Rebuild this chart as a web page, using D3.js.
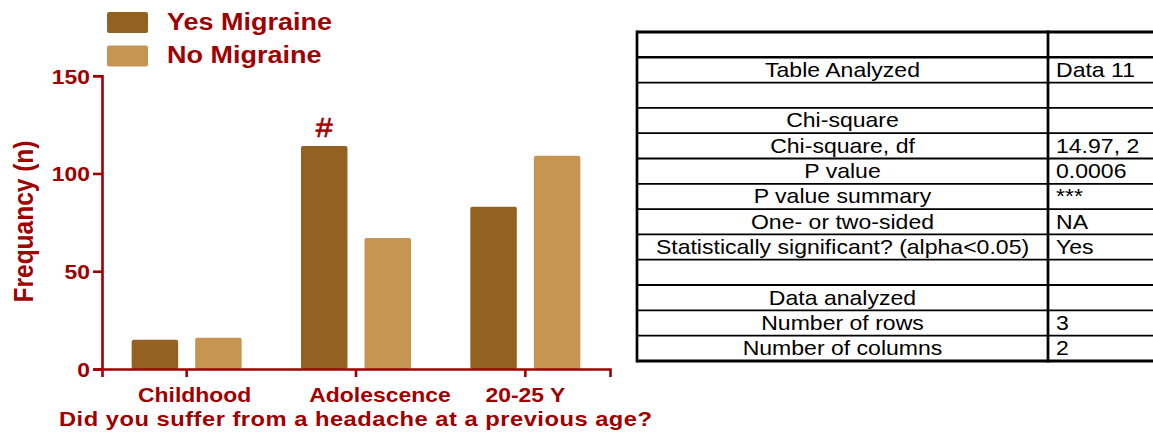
<!DOCTYPE html>
<html>
<head>
<meta charset="utf-8">
<script src="https://cdn.jsdelivr.net/npm/d3@7"></script>
<style>
  body { margin: 0; background: #fff; }
  svg { display: block; font-family: "Liberation Sans", Arial, sans-serif; }
</style>
</head>
<body>
<div class="chart"></div>
<script>
// chart values
var categories = ["Childhood", "Adolescence", "20-25 Y"];
var series = ["Yes Migraine", "No Migraine"];
var yesValues = [15, 114, 83];
var noValues = [16, 67, 109];
var yTicks = [0, 50, 100, 150];
var markCategory = "Adolescence";
var markSeries = "Yes Migraine";
var markText = "#";

var tableLabels = ["", "Table Analyzed", "", "Chi-square", "Chi-square, df", "P value",
    "P value summary", "One- or two-sided", "Statistically significant? (alpha<0.05)", "",
    "Data analyzed", "Number of rows", "Number of columns"];
var tableValues = ["", "Data 11", "", "", "14.97, 2", "0.0006", "***", "NA", "Yes", "",
    "", "3", "2"];

// the source picture is a bit stretched sideways, so text is too
var SX = 1.13;
var red = "#a00000";
var colors = { "Yes Migraine": "#936221", "No Migraine": "#c69552" };
var labelNudge = [8, 24, 0];

var svgWidth = 1153, svgHeight = 435;
var svg = d3.select(".chart").append("svg")
    .attr("width", svgWidth)
    .attr("height", svgHeight);

// scales
var x0 = d3.scaleBand().domain(categories).range([102, 610]);
var x1 = d3.scaleBand().domain(series).range([0, x0.bandwidth()])
    .paddingInner(0.268).paddingOuter(0.467);
var y = d3.scaleLinear().domain([0, 150]).range([369, 75.7]);

var rows = categories.map(function(c, i) {
    return { category: c, values: [
        { key: "Yes Migraine", value: yesValues[i] },
        { key: "No Migraine", value: noValues[i] }
    ] };
});

// bars
var groups = svg.append("g").selectAll("g")
    .data(rows)
    .enter().append("g")
    .attr("transform", function(d) { return "translate(" + x0(d.category) + ",0)"; });

groups.selectAll("rect")
    .data(function(d) { return d.values; })
    .enter().append("rect")
    .attr("x", function(d) { return x1(d.key); })
    .attr("y", function(d) { return y(d.value); })
    .attr("width", x1.bandwidth())
    .attr("height", function(d) { return y(0) - y(d.value); })
    .attr("rx", 2)
    .attr("fill", function(d) { return colors[d.key]; });

// significance mark
var markVal = yesValues[categories.indexOf(markCategory)];
svg.append("text")
    .attr("transform", "translate(" + (x0(markCategory) + x1(markSeries) + x1.bandwidth() / 2) + "," + (y(markVal) - 9) + ") scale(" + SX + ",1)")
    .attr("text-anchor", "middle")
    .attr("font-size", 27)
    .attr("fill", red)
    .attr("stroke", red)
    .attr("stroke-width", 0.6)
    .text(markText);

// axes
var xAxis = svg.append("g")
    .attr("transform", "translate(0," + y(0) + ")")
    .call(d3.axisBottom(x0).tickSizeOuter(0).tickSize(8));
xAxis.select(".domain").attr("stroke", red).attr("stroke-width", 2.6);
xAxis.selectAll(".tick line").attr("stroke", red).attr("stroke-width", 2.6);
xAxis.selectAll(".tick text")
    .attr("y", 33)
    .attr("dy", 0)
    .attr("x", function(d, i) { return labelNudge[i] / SX; })
    .attr("transform", "scale(" + SX + ",1)")
    .attr("font-size", 20.3)
    .attr("font-weight", "bold")
    .attr("font-family", "Liberation Sans, Arial, sans-serif")
    .attr("fill", red);

var yAxis = svg.append("g")
    .attr("transform", "translate(102,0)")
    .call(d3.axisLeft(y).tickValues(yTicks).tickSizeOuter(0).tickSize(9));
yAxis.select(".domain").attr("stroke", red).attr("stroke-width", 2.6);
yAxis.selectAll(".tick line").attr("stroke", red).attr("stroke-width", 2.6);
yAxis.selectAll(".tick text")
    .attr("x", -12 / SX)
    .attr("dy", "0.36em")
    .attr("transform", "scale(" + SX + ",1)")
    .attr("font-size", 20.3)
    .attr("font-weight", "bold")
    .attr("font-family", "Liberation Sans, Arial, sans-serif")
    .attr("fill", red);

// axis titles
svg.append("text")
    .attr("transform", "translate(33,221.5) scale(" + SX + ",1) rotate(-90)")
    .attr("text-anchor", "middle")
    .attr("font-size", 24.5)
    .attr("font-weight", "bold")
    .attr("fill", red)
    .text("Frequancy (n)");

svg.append("text")
    .attr("transform", "translate(59,426) scale(" + SX + ",1)")
    .attr("font-size", 21)
    .attr("font-weight", "bold")
    .attr("textLength", 593 / SX)
    .attr("lengthAdjust", "spacing")
    .attr("fill", red)
    .text("Did you suffer from a headache at a previous age?");

// legend
var legend = svg.append("g").selectAll("g")
    .data(series)
    .enter().append("g")
    .attr("transform", function(d, i) { return "translate(107," + (12 + i * 33.5) + ")"; });
legend.append("rect")
    .attr("width", 41)
    .attr("height", 21)
    .attr("rx", 2)
    .attr("fill", function(d) { return colors[d]; });
legend.append("text")
    .attr("transform", "translate(60,17.5) scale(" + SX + ",1)")
    .attr("font-size", 23.9)
    .attr("font-weight", "bold")
    .attr("fill", red)
    .text(function(d) { return d; });

// results table
var tLeft = 637, tDiv = 1048, tRight = 1170, tTop = 32, rowH = 25.3;
var table = svg.append("g");
var nRows = tableLabels.length;

table.selectAll("text.lab")
    .data(tableLabels)
    .enter().append("text")
    .attr("class", "lab")
    .attr("transform", function(d, i) { return "translate(" + ((tLeft + tDiv) / 2) + "," + (tTop + i * rowH + 19.5) + ") scale(" + SX + ",1)"; })
    .attr("text-anchor", "middle")
    .attr("font-size", 20.4)
    .attr("fill", "#000")
    .text(function(d) { return d; });

table.selectAll("text.val")
    .data(tableValues)
    .enter().append("text")
    .attr("class", "val")
    .attr("transform", function(d, i) { return "translate(" + (tDiv + 8) + "," + (tTop + i * rowH + 19.5) + ") scale(" + SX + ",1)"; })
    .attr("font-size", 20.4)
    .attr("fill", "#000")
    .text(function(d) { return d; });

table.selectAll("line.h")
    .data(d3.range(nRows + 1))
    .enter().append("line")
    .attr("class", "h")
    .attr("x1", tLeft).attr("x2", tRight)
    .attr("y1", function(i) { return tTop + i * rowH; })
    .attr("y2", function(i) { return tTop + i * rowH; })
    .attr("stroke", "#000")
    .attr("stroke-width", function(i) { return (i === 0 || i === nRows) ? 3 : (i === 1 ? 2.5 : 1.8); });

table.selectAll("line.v")
    .data([tLeft, tDiv])
    .enter().append("line")
    .attr("class", "v")
    .attr("x1", function(d) { return d; }).attr("x2", function(d) { return d; })
    .attr("y1", tTop - 1.5).attr("y2", tTop + nRows * rowH + 1.5)
    .attr("stroke", "#000")
    .attr("stroke-width", 2.7);
</script>
</body>
</html>
